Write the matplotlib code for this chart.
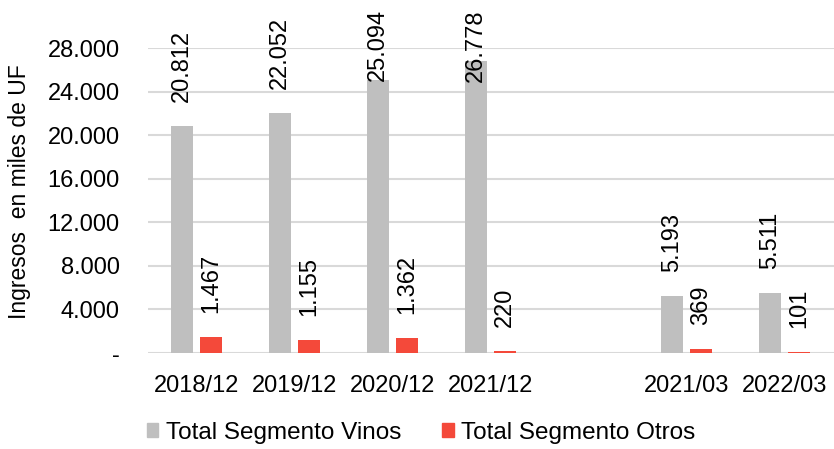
import matplotlib
matplotlib.use("Agg")
import matplotlib.pyplot as plt
import numpy as np
from matplotlib.patches import Patch

categories = ["2018/12", "2019/12", "2020/12", "2021/12", "", "2021/03", "2022/03"]
vinos = [20812, 22052, 25094, 26778, None, 5193, 5511]
otros = [1467, 1155, 1362, 220, None, 369, 101]
yticks = [0, 4000, 8000, 12000, 16000, 20000, 24000, 28000]
ytick_labels = ["-", "4.000", "8.000", "12.000", "16.000", "20.000", "24.000", "28.000"]

GRAY = "#BFBFBF"
RED = "#F4493A"
FS = 17

plt.rcParams['font.family'] = ['Liberation Sans', 'DejaVu Sans']

fig = plt.figure(figsize=(8.34, 4.49), dpi=100)
ax = fig.add_axes([0.1769, 0.2138, 0.8231, 0.6792])

x = np.arange(len(categories))
w = 0.224
off = 0.148

def fmt(v):
    return f"{v:,}".replace(",", ".")

ax.set_xlim(-0.5, len(categories) - 0.5)
ax.set_ylim(0, 28000)

labels = []
for i, (v, o) in enumerate(zip(vinos, otros)):
    if v is None:
        continue
    ax.bar(x[i] - off, v, width=w, color=GRAY, zorder=2)
    ax.bar(x[i] + off, o, width=w, color=RED, zorder=2)
    for xx, val in ((x[i] - off, v), (x[i] + off, o)):
        t = ax.annotate(fmt(val), (xx, val), xytext=(0, 24), textcoords="offset pixels",
                        rotation=90, ha="center", va="bottom", fontsize=FS, annotation_clip=False)
        labels.append((t, xx, val))

ax.set_yticks(yticks)
ax.set_yticklabels(ytick_labels, fontsize=FS)
ax.set_xticks(x)
ax.set_xticklabels(categories, fontsize=FS)
ax.tick_params(axis="y", length=0, pad=20)
ax.tick_params(axis="x", length=0, pad=16)
ax.grid(axis="y", color="#D9D9D9", linewidth=1.5, zorder=0)
ax.set_axisbelow(True)
for s in ax.spines.values():
    s.set_visible(False)

fig.text(0.023, 0.573, "Ingresos  en miles de UF", rotation=90, ha="center", va="center", fontsize=16.5)

handles = [Patch(color=GRAY, label="Total Segmento Vinos"), Patch(color=RED, label="Total Segmento Otros")]
fig.legend(handles=handles, loc="center", bbox_to_anchor=(0.505, 0.036), ncol=2, frameon=False,
           fontsize=17.5, handlelength=0.47, handleheight=0.47, handletextpad=0.3, columnspacing=1.7,
           borderpad=0, borderaxespad=0)

# keep data labels inside the figure (shift down when they would overflow)
fig.canvas.draw()
renderer = fig.canvas.get_renderer()
H = fig.bbox.height
for t, xx, val in labels:
    bb = t.get_window_extent(renderer)
    if bb.y1 > H - 9:
        shift = bb.y1 - (H - 9)
        t.set_position((0, 24 - shift))

fig.savefig("out.png", dpi=100)
